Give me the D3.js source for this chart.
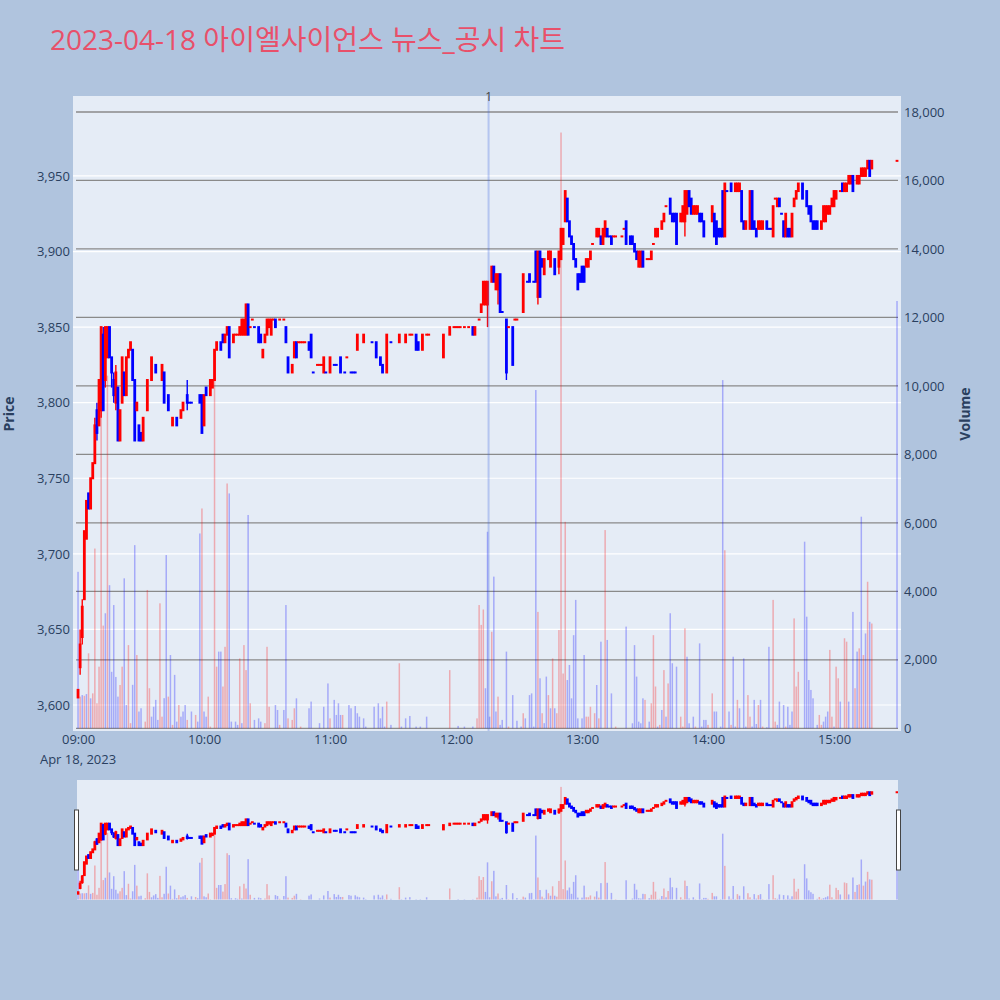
<!DOCTYPE html>
<html><head><meta charset="utf-8">
<script src="https://cdn.jsdelivr.net/npm/d3@7"></script>
<style>body{margin:0;background:#b0c4de;} svg{display:block}</style>
</head><body>
<svg id="c" width="1000" height="1000"></svg>
<script>
const chartTitle = "2023-04-18 아이엘사이언스 뉴스_공시 차트";
const dateLabel = "Apr 18, 2023";
const priceTitle = "Price", volumeTitle = "Volume";
const annotMinute = 195.5, annotText = "1";

// candle minutes after 09:00
const candleMin = [
0,1,2,3,4,5,6,7,8,9, 10,11,12,13,14,15,16,17,18,19, 20,21,22,23,24,25,26,27,28,29, 30,31,33,35,37,40,41,43,45,47, 49,50,52,53,54,58,59,60,61,63,
64,65,66,68,69,70,71,72,74,75, 76,77,78,79,80,81,82,83,84,86, 87,88,89,90,91,92,93,94,96,98, 99,100,102,103,104,105,106,107,108,110, 111,112,114,115,116,117,118,120,122,123,
125,127,128,130,131,132,133,136,140,142, 144,145,147,149,153,156,158,159,161,162, 164,166,167,174,177,179,180,181,182,184, 186,188,189,191,192,193,194,195,197,198, 199,200,201,202,204,205,207,208,209,212,
214,215,217,218,219,220,221,222,224,225, 227,229,230,231,232,233,234,235,236,237, 238,239,240,241,242,243,244,245,247,248, 249,250,251,252,253,254,255,256,259,260, 261,263,264,265,266,267,268,269,271,272,
273,274,275,276,278,279,280,282,283,284, 285,287,288,289,290,291,292,293,294,295, 296,297,298,302,303,304,305,306,307,308, 309,311,313,314,315,316,317,318,320,321, 322,323,324,325,326,328,329,330,331,332,
333,334,335,336,337,338,339,340,341,342, 343,345,347,348,349,350,351,352,354,355, 356,357,358,359,360,361,363,364,365,366, 367,368,369,371,372,373,374,375,376,377, 378,390];
const openP = [
3605,3625,3645,3670,3710,3740,3730,3750,3760,3795, 3785,3795,3845,3815,3830,3850,3830,3815,3800,3810, 3775,3800,3820,3805,3830,3835,3835,3815,3795,3785, 3780,3775,3795,3815,3825,3815,3820,3805,3785,3790, 3790,3795,3805,3800,3800,3805,3805,3785,3810,3805,
3810,3815,3835,3840,3845,3840,3845,3850,3840,3845, 3845,3845,3845,3845,3845,3865,3850,3855,3850,3850, 3845,3830,3840,3845,3850,3845,3855,3855,3855,3855, 3850,3830,3820,3830,3840,3840,3840,3840,3840,3840, 3845,3820,3825,3825,3825,3820,3820,3820,3825,3825,
3830,3820,3830,3820,3820,3820,3835,3840,3840,3840, 3830,3825,3820,3840,3840,3840,3845,3845,3845,3840, 3835,3845,3845,3830,3845,3850,3850,3850,3850,3850, 3850,3850,3845,3855,3860,3865,3865,3865,3880,3890, 3875,3875,3885,3860,3855,3850,3850,3855,3855,3860,
3880,3885,3880,3900,3870,3900,3895,3885,3895,3890, 3895,3890,3895,3905,3920,3935,3920,3910,3905,3895, 3885,3885,3890,3890,3890,3890,3895,3905,3910,3910, 3910,3905,3910,3915,3910,3910,3910,3910,3910,3915, 3920,3910,3910,3905,3900,3890,3890,3900,3895,3895,
3895,3905,3910,3910,3915,3920,3930,3935,3925,3925, 3925,3920,3920,3920,3925,3940,3935,3925,3925,3925, 3925,3925,3920,3920,3925,3920,3915,3915,3940,3910, 3940,3945,3940,3940,3940,3940,3920,3915,3915,3940, 3920,3915,3915,3915,3915,3920,3915,3915,3910,3935,
3930,3935,3925,3920,3910,3915,3915,3910,3930,3935, 3940,3945,3940,3930,3930,3920,3920,3920,3915,3920, 3920,3925,3925,3930,3930,3935,3940,3945,3940,3940, 3945,3945,3950,3945,3945,3950,3950,3950,3955,3960, 3955,3960];
const highP = [
3610,3650,3670,3715,3735,3740,3750,3760,3790,3800, 3815,3850,3850,3850,3850,3850,3830,3820,3825,3810, 3795,3830,3820,3830,3835,3840,3835,3815,3800,3785, 3780,3790,3815,3830,3825,3825,3820,3805,3790,3790, 3795,3800,3815,3800,3800,3805,3805,3805,3810,3815,
3815,3835,3840,3840,3845,3845,3850,3850,3845,3845, 3845,3850,3855,3855,3865,3865,3850,3855,3850,3850, 3845,3835,3845,3855,3855,3855,3855,3855,3855,3855, 3850,3830,3825,3840,3840,3840,3840,3840,3840,3840, 3845,3820,3825,3825,3825,3830,3820,3830,3825,3825,
3830,3820,3830,3820,3820,3820,3845,3845,3840,3840, 3830,3825,3845,3840,3845,3845,3845,3845,3845,3840, 3845,3845,3845,3845,3850,3850,3850,3850,3850,3850, 3850,3850,3850,3855,3865,3880,3880,3880,3890,3890, 3885,3885,3885,3860,3855,3850,3850,3855,3855,3885,
3880,3885,3880,3900,3900,3900,3895,3895,3900,3900, 3895,3900,3915,3915,3940,3935,3920,3910,3905,3895, 3885,3885,3890,3890,3895,3895,3900,3905,3915,3915, 3910,3915,3920,3915,3910,3910,3910,3910,3910,3915, 3920,3910,3910,3905,3900,3900,3900,3900,3895,3895,
3900,3905,3915,3915,3920,3925,3930,3935,3925,3925, 3925,3925,3930,3940,3940,3940,3935,3930,3930,3930, 3925,3925,3920,3930,3925,3920,3915,3915,3940,3945, 3940,3945,3945,3945,3945,3940,3920,3920,3940,3940, 3920,3915,3920,3920,3920,3920,3915,3915,3930,3935,
3935,3935,3925,3920,3925,3915,3915,3925,3935,3940, 3945,3945,3940,3930,3930,3920,3920,3920,3920,3930, 3930,3930,3930,3935,3940,3940,3940,3945,3945,3945, 3950,3950,3950,3950,3950,3955,3955,3955,3960,3960, 3960,3960];
const lowP = [
3605,3620,3640,3670,3710,3730,3730,3750,3760,3775, 3785,3790,3795,3810,3830,3830,3810,3800,3795,3775, 3775,3800,3805,3805,3830,3835,3815,3775,3795,3775, 3775,3775,3795,3815,3820,3815,3800,3795,3785,3785, 3790,3795,3795,3800,3800,3800,3780,3785,3805,3805,
3810,3815,3835,3835,3840,3840,3845,3830,3840,3845, 3845,3845,3845,3845,3845,3845,3850,3855,3850,3840, 3840,3830,3840,3845,3850,3845,3855,3850,3855,3855, 3840,3820,3820,3830,3830,3840,3840,3840,3840,3835, 3830,3820,3825,3825,3825,3820,3820,3820,3825,3825,
3820,3820,3830,3820,3820,3820,3835,3840,3840,3830, 3825,3820,3820,3840,3840,3840,3845,3845,3835,3835, 3835,3845,3845,3830,3845,3850,3850,3850,3850,3850, 3850,3845,3845,3855,3860,3865,3865,3850,3880,3880, 3875,3865,3860,3860,3815,3850,3825,3855,3855,3860,
3880,3880,3880,3880,3865,3870,3890,3885,3895,3890, 3885,3885,3895,3905,3920,3920,3910,3905,3895,3890, 3875,3880,3880,3880,3890,3890,3895,3905,3910,3910, 3905,3905,3910,3910,3910,3905,3910,3910,3910,3915, 3905,3905,3905,3900,3895,3890,3890,3890,3895,3895,
3895,3905,3910,3910,3915,3920,3930,3925,3920,3920, 3905,3920,3920,3910,3925,3930,3925,3925,3925,3925, 3920,3920,3910,3920,3910,3905,3910,3910,3910,3910, 3940,3940,3940,3940,3940,3920,3915,3915,3915,3915, 3915,3910,3915,3915,3915,3915,3915,3915,3910,3935,
3930,3930,3925,3910,3910,3910,3910,3910,3930,3935, 3940,3935,3930,3925,3920,3915,3915,3915,3915,3920, 3920,3925,3925,3930,3930,3935,3940,3940,3940,3940, 3945,3945,3940,3945,3945,3950,3950,3950,3955,3950, 3955,3960];
const closeP = [
3610,3640,3665,3715,3735,3730,3750,3760,3785,3780, 3815,3850,3795,3850,3850,3830,3820,3805,3820,3775, 3795,3830,3805,3830,3835,3840,3815,3775,3800,3775, 3775,3790,3815,3830,3820,3825,3800,3795,3790,3785, 3795,3800,3800,3800,3800,3800,3780,3805,3805,3815,
3815,3835,3840,3835,3840,3845,3850,3830,3845,3845, 3845,3850,3855,3855,3865,3845,3850,3855,3850,3840, 3840,3835,3845,3855,3855,3855,3855,3850,3855,3855, 3840,3820,3825,3840,3830,3840,3840,3840,3840,3835, 3830,3820,3825,3825,3825,3830,3820,3830,3825,3825,
3820,3820,3830,3820,3820,3820,3845,3845,3840,3830, 3825,3820,3845,3840,3845,3845,3845,3845,3835,3835, 3845,3845,3845,3845,3850,3850,3850,3850,3850,3850, 3850,3845,3850,3855,3865,3880,3880,3880,3890,3880, 3885,3885,3860,3860,3820,3850,3825,3855,3855,3885,
3880,3880,3880,3880,3900,3870,3890,3895,3900,3900, 3885,3900,3915,3915,3940,3920,3910,3905,3895,3890, 3875,3880,3880,3880,3895,3895,3900,3905,3915,3915, 3905,3915,3920,3910,3910,3905,3910,3910,3910,3915, 3905,3905,3905,3900,3895,3900,3900,3890,3895,3895,
3900,3905,3915,3915,3920,3925,3930,3925,3920,3920, 3905,3925,3930,3940,3940,3930,3925,3930,3930,3930, 3920,3920,3910,3930,3910,3905,3910,3910,3910,3945, 3940,3940,3945,3945,3945,3920,3915,3920,3940,3915, 3915,3910,3920,3920,3920,3915,3915,3915,3930,3935,
3935,3930,3925,3910,3925,3910,3910,3925,3935,3940, 3945,3935,3930,3925,3920,3915,3915,3915,3920,3930, 3930,3930,3930,3935,3940,3940,3940,3940,3945,3945, 3950,3950,3940,3950,3950,3955,3955,3955,3960,3950, 3960,3960];

// volume bars: minute, size, direction (1 up / -1 down)
const volMin = [
0,1,2,3,4,5,6,7,8,9, 10,11,12,13,14,15,16,17,18,19, 20,21,22,23,24,25,26,27,28,29, 30,32,33,34,35,36,37,38,39,40,
41,42,43,44,45,46,47,48,49,50, 51,52,54,56,57,58,59,60,61,62, 63,65,66,67,68,69,70,71,72,73, 75,76,77,78,79,80,81,82,84,86,
87,89,90,91,94,95,96,98,99,100, 102,103,104,106,110,111,115,117,119,120, 122,123,124,125,126,129,130,132,133,134, 136,137,141,143,144,145,146,147,149,153,
154,156,158,161,163,166,177,181,184,188, 190,191,192,193,194,195,196,197,198,199, 200,201,202,204,205,207,209,211,212,213, 215,216,217,218,219,220,221,222,223,224,
225,226,227,228,229,230,231,232,233,234, 235,236,237,238,240,241,242,243,244,246, 247,248,249,251,252,254,256,261,264,265, 266,267,268,269,270,272,273,274,275,276,
277,278,279,280,281,282,283,285,287,288, 289,290,291,293,294,296,297,298,299,300, 302,303,304,306,307,308,310,311,312,313, 314,315,317,318,319,320,321,322,323,324,
325,326,328,329,331,332,333,334,336,337, 338,339,340,341,342,343,346,347,348,349, 350,352,353,354,355,356,357,358,359,360, 361,362,363,365,366,367,369,370,371,372,
373,374,375,376,377,378,390];
const volume = [
4570,925,970,950,1000,2190,875,1020,5250,730, 1800,11000,3000,3360,10300,4180,1650,3600,1500,925, 1265,1800,4380,680,2430,150,1270,5350,2140,490, 585,195,4040,1170,340,630,830,245,3650,340,
880,5060,925,2140,100,1560,195,680,340,490, 680,245,490,390,195,5690,6420,490,340,925, 50,10220,1800,2240,2240,1220,2380,7150,6860,195, 195,100,2040,150,2430,1700,6230,730,245,290,
195,150,2380,630,680,535,100,535,3600,290, 245,585,875,50,585,780,150,630,1310,290, 830,390,730,390,390,680,585,650,440,340, 290,50,630,730,290,630,50,780,100,1900,
50,290,360,50,50,340,1700,70,50,50, 290,3600,3020,3470,1170,5740,340,2820,4430,490, 925,100,245,2240,50,970,220,50,440,290, 970,1020,50,9880,3400,1460,440,150,1510,970,
585,2040,585,440,2870,17400,1600,6030,1410,1850, 875,2720,3750,290,290,2140,340,340,630,440, 1265,290,2530,5790,2580,1020,50,2970,146,2430, 1510,195,146,875,830,195,730,2720,1220,50,
100,535,1700,340,1310,3360,1900,1800,340,50, 2920,2090,146,340,50,2480,50,245,245,100, 1020,490,490,50,10170,5200,490,100,2090,50, 830,585,2040,50,970,340,50,830,126,680,
830,50,30,2380,3750,195,100,780,680,50, 630,100,490,3210,1220,1650,5450,3260,1410,1120, 875,100,390,100,195,340,490,2290,340,50, 1800,1460,780,2630,2530,780,3400,1170,2240,2335,
6180,2140,2770,4280,3110,3060,12480];
const volDir = [
-1,1,-1,1,-1,1,-1,1,1,1, 1,1,1,-1,1,-1,-1,-1,-1,-1, 1,1,-1,-1,1,1,-1,-1,1,-1, -1,1,1,1,-1,-1,-1,-1,1,1,
-1,-1,1,-1,1,-1,-1,1,-1,-1, -1,1,-1,1,-1,-1,1,-1,-1,1, 1,1,1,-1,-1,1,1,1,-1,-1, -1,-1,1,-1,1,1,-1,1,-1,-1,
-1,1,1,1,-1,-1,1,-1,-1,1, 1,1,-1,1,-1,-1,-1,-1,-1,1, -1,-1,-1,-1,1,-1,-1,-1,-1,-1, -1,-1,-1,-1,-1,-1,-1,1,-1,1,
-1,-1,-1,-1,-1,-1,1,-1,-1,-1, 1,1,1,1,-1,-1,-1,1,-1,-1, 1,-1,-1,-1,1,-1,-1,-1,1,-1, -1,-1,-1,-1,1,-1,1,-1,-1,1,
-1,1,-1,1,1,1,1,1,-1,-1, -1,-1,-1,-1,-1,-1,1,1,1,1, -1,1,-1,1,-1,-1,1,-1,-1,-1, -1,-1,-1,-1,1,-1,1,1,1,-1,
1,-1,1,-1,1,-1,-1,-1,1,1, 1,-1,-1,-1,1,-1,-1,-1,-1,1, 1,-1,-1,-1,-1,1,-1,1,-1,-1, 1,-1,-1,-1,1,1,-1,-1,-1,1,
-1,1,-1,-1,1,1,-1,-1,-1,1, -1,-1,-1,1,1,1,-1,-1,-1,-1, -1,-1,1,1,-1,-1,-1,1,1,-1, 1,1,-1,1,1,-1,-1,1,-1,1,
-1,1,-1,1,-1,1,-1];

const priceTicks = [3600,3650,3700,3750,3800,3850,3900,3950];
const volTicks = [0,2000,4000,6000,8000,10000,12000,14000,16000,18000];
const timeTicks = ["09:00","10:00","11:00","12:00","13:00","14:00","15:00"];

const UP = "#ff0000", DOWN = "#0000ff";
const FONT = "'Open Sans','Noto Sans CJK KR',sans-serif";
const TXT = "#2a3f5f";

const svg = d3.select("#c");
svg.append("rect").attr("width",1000).attr("height",1000).attr("fill","#b0c4de");

const M = {left:73, right:901, top:96, bottom:731};
const S = {left:77, right:898, top:780, bottom:900};
const base = new Date(2023,3,18,9,0,0);
const toDate = m => new Date(base.getTime() + m*60000);
const parseHM = d3.timeParse("%Y-%m-%d %H:%M");

const x = d3.scaleTime().domain([toDate(-2.4), toDate(391.9)]).range([M.left, M.right]);
const yP = d3.scaleLinear().domain([3582.8, 4002.9]).range([M.bottom, M.top]);
const yV = d3.scaleLinear().domain([-79, 18467]).range([M.bottom, M.top]);
const yPs = d3.scaleLinear().domain(yP.domain()).range([S.bottom, S.top]);
const yVs = d3.scaleLinear().domain(yV.domain()).range([S.bottom, S.top]);

const candles = candleMin.map((m,i)=>({t:toDate(m),o:openP[i],h:highP[i],l:lowP[i],c:closeP[i]}));
let prevDir = 1, prevC = null;
candles.forEach(d=>{
  let dir;
  if (d.c > d.o) dir = 1; else if (d.c < d.o) dir = -1;
  else dir = prevC===null ? 1 : (d.c > prevC ? 1 : (d.c < prevC ? -1 : prevDir));
  d.dir = dir; prevDir = dir; prevC = d.c;
});
const vols = volMin.map((m,i)=>({t:toDate(m), v:volume[i], dir:volDir[i]}));

const defs = svg.append("defs");
defs.append("clipPath").attr("id","mainClip").append("rect")
  .attr("x",M.left).attr("y",M.top).attr("width",M.right-M.left).attr("height",M.bottom-M.top);
defs.append("clipPath").attr("id","sliderClip").append("rect")
  .attr("x",S.left).attr("y",S.top).attr("width",S.right-S.left).attr("height",S.bottom-S.top);

svg.append("rect").attr("x",M.left).attr("y",M.top).attr("width",M.right-M.left).attr("height",M.bottom-M.top).attr("fill","#e5ecf6");

const gP = svg.append("g").attr("transform",`translate(${M.left},0)`)
  .call(d3.axisLeft(yP).tickValues(priceTicks).tickFormat(d3.format(",")).tickSize(0).tickPadding(3));
gP.select(".domain").remove();
gP.selectAll("text").attr("font-family",FONT).attr("font-size",13).attr("fill",TXT);
svg.append("g").selectAll("line").data(priceTicks).join("line")
  .attr("x1",M.left).attr("x2",M.right).attr("y1",d=>yP(d)).attr("y2",d=>yP(d))
  .attr("stroke","#ffffff").attr("stroke-width",1.2);

svg.append("g").selectAll("line").data(volTicks).join("line")
  .attr("x1",M.left+3).attr("x2",M.right-3).attr("y1",d=>yV(d)).attr("y2",d=>yV(d))
  .attr("stroke","#8a8a8a").attr("stroke-width",1.3);
const gV = svg.append("g").attr("transform",`translate(${M.right},0)`)
  .call(d3.axisRight(yV).tickValues(volTicks).tickFormat(d3.format(",")).tickSize(0).tickPadding(3));
gV.select(".domain").remove();
gV.selectAll("text").attr("font-family",FONT).attr("font-size",13).attr("fill",TXT);

const gX = svg.append("g").attr("transform",`translate(0,${M.bottom})`)
  .call(d3.axisBottom(x).tickValues(timeTicks.map(s=>parseHM("2023-04-18 "+s))).tickFormat(d3.timeFormat("%H:%M")).tickSize(0).tickPadding(4));
gX.select(".domain").remove();
gX.selectAll("text").attr("font-family",FONT).attr("font-size",13).attr("fill",TXT);
svg.append("text").attr("x",x(toDate(0))).attr("y",764).attr("text-anchor","middle")
  .attr("font-family",FONT).attr("font-size",13).attr("fill",TXT).text(dateLabel);

const main = svg.append("g").attr("clip-path","url(#mainClip)");
main.append("g").selectAll("rect").data(vols).join("rect")
  .attr("x",d=>x(d.t)-0.75).attr("width",1.5)
  .attr("y",d=>yV(d.v)).attr("height",d=>yV(0)-yV(d.v))
  .attr("fill",d=>d.dir>0?UP:DOWN).attr("fill-opacity",0.28);

function drawCandles(g, ys, bw){
  g.selectAll("line.w").data(candles).join("line").attr("class","w")
    .attr("x1",d=>x(d.t)).attr("x2",d=>x(d.t))
    .attr("y1",d=>ys(d.h)).attr("y2",d=>ys(d.l))
    .attr("stroke",d=>d.dir>0?UP:DOWN).attr("stroke-width",1.4);
  g.selectAll("rect.b").data(candles).join("rect").attr("class","b")
    .attr("x",d=>x(d.t)-bw/2).attr("width",bw)
    .attr("y",d=>ys(Math.max(d.o,d.c))-1)
    .attr("height",d=>Math.abs(ys(d.o)-ys(d.c))+2)
    .attr("fill",d=>d.dir>0?UP:DOWN);
}
drawCandles(main.append("g"), yP, 2.8);

const ax = x(toDate(annotMinute));
svg.append("line").attr("x1",ax).attr("x2",ax).attr("y1",M.top).attr("y2",M.bottom)
  .attr("stroke","rgb(65,105,225)").attr("stroke-opacity",0.3).attr("stroke-width",2);
svg.append("text").attr("x",ax).attr("y",101).attr("text-anchor","middle")
  .attr("font-family",FONT).attr("font-size",12).attr("fill","#444").text(annotText);

svg.append("rect").attr("x",S.left).attr("y",S.top).attr("width",S.right-S.left).attr("height",S.bottom-S.top).attr("fill","#e5ecf6");
const sl = svg.append("g").attr("clip-path","url(#sliderClip)");
sl.append("g").selectAll("rect").data(vols).join("rect")
  .attr("x",d=>x(d.t)-0.75).attr("width",1.5)
  .attr("y",d=>yVs(d.v)).attr("height",d=>yVs(0)-yVs(d.v))
  .attr("fill",d=>d.dir>0?UP:DOWN).attr("fill-opacity",0.28);
drawCandles(sl.append("g"), yPs, 2.8);
[S.left-2.5, S.right-1.5].forEach(hx=>{
  svg.append("rect").attr("x",hx).attr("y",810).attr("width",4).attr("height",60)
    .attr("fill","#fff").attr("stroke","#444").attr("stroke-width",1);
});

svg.append("text").attr("x",50).attr("y",50).attr("font-family",FONT).attr("font-size",28)
  .attr("fill","#e8506a").text(chartTitle);
svg.append("text").attr("transform","translate(14,414) rotate(-90)").attr("text-anchor","middle")
  .attr("font-family",FONT).attr("font-size",14).attr("font-weight","bold").attr("fill",TXT).text(priceTitle);
svg.append("text").attr("transform","translate(970,414) rotate(-90)").attr("text-anchor","middle")
  .attr("font-family",FONT).attr("font-size",14).attr("font-weight","bold").attr("fill",TXT).text(volumeTitle);
</script>
</body></html>
